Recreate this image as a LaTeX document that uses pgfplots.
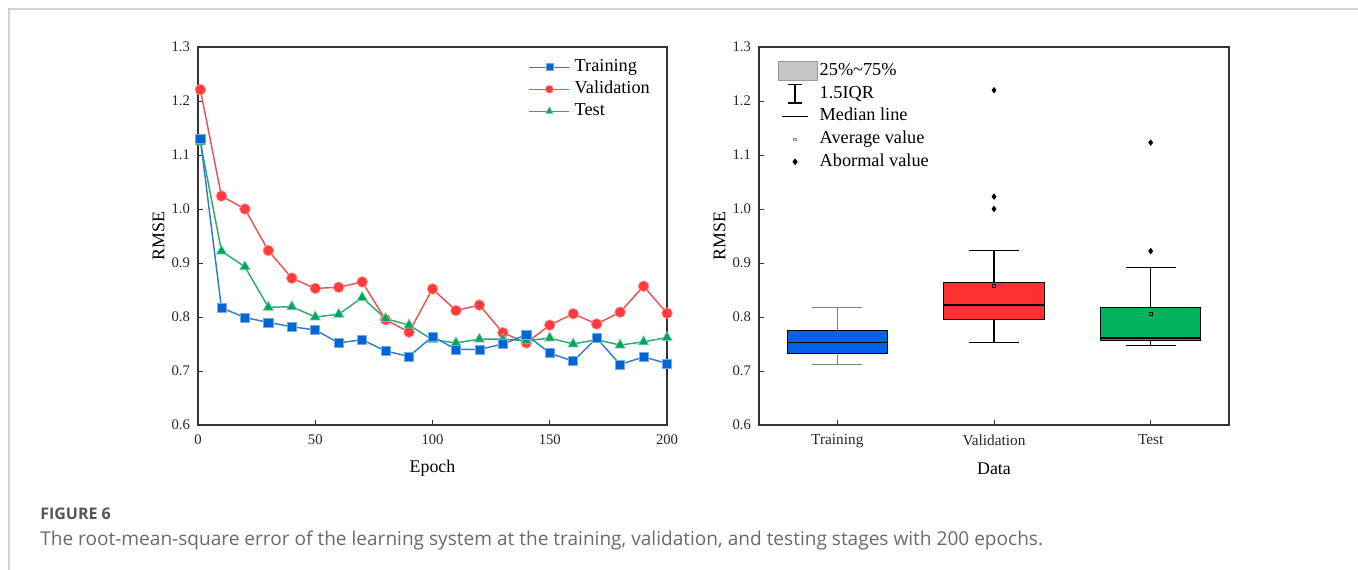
\documentclass[border=0pt]{standalone}
\usepackage{fontspec}
\setmainfont{Liberation Serif}
\newfontfamily\capfont{Open Sans}
\usepackage{pgfplots}
\usepackage{pgfplotstable}
\pgfplotsset{compat=1.18}
\usepgfplotslibrary{statistics}
\definecolor{trainc}{HTML}{0066D6}
\definecolor{trainl}{HTML}{2F7FC8}
\definecolor{valc}{HTML}{FF3B3B}
\definecolor{vall}{HTML}{E85454}
\definecolor{testc}{HTML}{00A55A}
\definecolor{testl}{HTML}{2DAA70}
\definecolor{boxblue}{HTML}{0063E5}
\definecolor{boxred}{HTML}{FF3030}
\definecolor{boxgreen}{HTML}{00B25C}
\definecolor{framec}{HTML}{D2D2D2}
\definecolor{capc}{HTML}{555555}
\definecolor{capt}{HTML}{6A6A6A}

\pgfplotstableread{
ep  train val   test
1   1.130 1.221 1.124
10  0.817 1.024 0.922
20  0.799 1.000 0.893
30  0.790 0.923 0.818
40  0.782 0.872 0.819
50  0.776 0.853 0.800
60  0.752 0.855 0.805
70  0.758 0.865 0.836
80  0.737 0.795 0.797
90  0.727 0.772 0.785
100 0.764 0.852 0.758
110 0.740 0.812 0.752
120 0.740 0.822 0.759
130 0.750 0.771 0.759
140 0.767 0.752 0.756
150 0.733 0.785 0.761
160 0.718 0.806 0.750
170 0.761 0.787 0.758
180 0.712 0.809 0.748
190 0.726 0.857 0.754
200 0.714 0.807 0.762
}\rmse

\pgfplotsset{
  myaxis/.style={
    scale only axis,
    anchor=south west,
    height=283.5pt,
    ymin=0.6, ymax=1.3,
    ytick={0.6,0.7,0.8,0.9,1.0,1.1,1.2,1.3},
    yticklabel style={/pgf/number format/fixed, /pgf/number format/fixed zerofill, /pgf/number format/precision=1, xshift=-2.5pt},
    xticklabel style={yshift=-3.5pt},
    tick align=inside,
    xtick pos=bottom, ytick pos=left,
    axis line style={black!80, line width=0.8pt},
    major tick length=4pt,
    tick style={black!80, line width=0.7pt},
    ticklabel style={font=\fontsize{11}{12}\selectfont, text=black!85},
    /pgf/number format/assume math mode=true,
    label style={font=\fontsize{13.4}{15}\selectfont},
    xlabel style={at={(axis description cs:0.5,-0.115)}, anchor=center},
    ylabel style={at={(axis description cs:-0.084,0.5)}, anchor=center},
    legend style={draw=none, fill=none, inner sep=0pt, outer sep=0pt,
      font=\fontsize{13.7}{15}\selectfont, anchor=north west},
    legend cell align=left,
  },
  trainstyle/.style={draw=trainl, line width=1.1pt, mark=square*, mark size=3.4pt,
     mark options={fill=trainc, draw=trainc!55!white, line width=0.5pt, solid}},
  valstyle/.style={draw=vall, line width=1.1pt, mark=*, mark size=4pt,
     mark options={fill=valc, draw=valc!55!white, line width=0.5pt, solid}},
  teststyle/.style={draw=testl, line width=1.1pt, mark=triangle*, mark size=4.4pt,
     mark options={fill=testc, draw=testc!55!white, line width=0.5pt, solid}},
}

\begin{document}
\begin{tikzpicture}
\path[use as bounding box] (0pt,0pt) rectangle (1018.5pt,427.5pt);
\draw[framec, line width=1.5pt] (7pt,0pt) -- (7pt,420.75pt) -- (1018.5pt,420.75pt);
\node[anchor=west, inner sep=0pt, text=capc, font=\capfont\fontsize{12}{14}\selectfont\bfseries] at (30pt,42pt) {FIGURE 6};
\node[anchor=west, inner sep=0pt, text=capt, font=\capfont\fontsize{14.3}{16}\selectfont] at (30pt,22.5pt) {The root-mean-square error of the learning system at the training, validation, and testing stages with 200 epochs.};

\begin{axis}[myaxis, at={(148.5pt,108.75pt)}, width=351.75pt,
  xmin=0, xmax=200, xtick={0,50,100,150,200},
  xlabel={Epoch}, ylabel={RMSE},
  legend style={at={(0.705,0.972)}, nodes={inner sep=1pt, text height=9.5pt, text depth=3pt}, row sep=2pt},
  legend image code/.code={\draw[mark repeat=2,mark phase=2,#1] plot coordinates {(0pt,0pt) (15pt,0pt) (30pt,0pt)}; \path[draw=none, fill=none] (0pt,0pt) -- (33pt,0pt);},
]
\addlegendimage{trainstyle, mark size=2.6pt}
\addlegendentry{Training}
\addlegendimage{valstyle, mark size=3pt}
\addlegendentry{Validation}
\addlegendimage{teststyle, mark size=3.2pt}
\addlegendentry{Test}
\addplot[valstyle, forget plot] table[x=ep,y=val]{\rmse};
\addplot[teststyle, forget plot] table[x=ep,y=test]{\rmse};
\addplot[trainstyle, forget plot] table[x=ep,y=train]{\rmse};
\end{axis}

\begin{axis}[myaxis, at={(569.25pt,108.75pt)}, width=352.5pt,
  xmin=0.5, xmax=3.5, xtick={1,2,3}, xticklabels={Training,Validation,Test},
  xticklabel style={font=\fontsize{11.5}{13}\selectfont},
  xlabel={Data}, ylabel={RMSE},
  boxplot/draw direction=y,
  boxplot/box extend=0.64, boxplot/whisker extend=0.32,
  boxplot/every median/.style={draw=black, line width=1.3pt},
  boxplot/every average/.style={/tikz/mark=square, /tikz/mark size=1.2pt, /tikz/mark options={draw=black!45, fill=none, line width=0.4pt}},
  legend style={at={(0.0404,0.9625)}, nodes={inner sep=0pt, text height=9.5pt, text depth=3pt}, row sep=2pt},
]
\addlegendimage{legend image code/.code={\draw[fill=gray!45, draw=gray!80, line width=0.6pt] (0pt,-7pt) rectangle (29pt,7pt); \path[draw=none, fill=none] (0pt,-7.5pt) rectangle (31pt,7.5pt);}}
\addlegendentry{25\%\textasciitilde 75\%}
\addlegendimage{legend image code/.code={\draw[black, line width=0.9pt] (7.5pt,-6.8pt)--(17.5pt,-6.8pt) (12.5pt,-6.8pt)--(12.5pt,6.8pt) (7.5pt,6.8pt)--(17.5pt,6.8pt); \path[draw=none, fill=none] (0pt,-7.5pt) rectangle (31pt,7.5pt);}}
\addlegendentry{1.5IQR}
\addlegendimage{legend image code/.code={\draw[black, line width=0.9pt] (3pt,0pt)--(22pt,0pt); \path[draw=none, fill=none] (0pt,-7.5pt) rectangle (31pt,7.5pt);}}
\addlegendentry{Median line}
\addlegendimage{legend image code/.code={\draw[black!45, line width=0.4pt] (11.5pt,-1pt) rectangle (13.5pt,1pt); \path[draw=none, fill=none] (0pt,-7.5pt) rectangle (31pt,7.5pt);}}
\addlegendentry{Average value}
\addlegendimage{legend image code/.code={\fill[black] (12.5pt,2.2pt)--(14.2pt,0pt)--(12.5pt,-2.2pt)--(10.8pt,0pt)--cycle; \path[draw=none, fill=none] (0pt,-7.5pt) rectangle (31pt,7.5pt);}}
\addlegendentry{Abormal value}

\addplot[boxplot prepared={draw position=1, lower whisker=0.712, lower quartile=0.733, median=0.753, upper quartile=0.775, upper whisker=0.818},
  fill=boxblue, draw=black, line width=0.8pt, mark=diamond*, mark options={fill=black, draw=black},
  boxplot/every whisker/.style={draw=black!50, line width=0.8pt}, forget plot] coordinates {};
\addplot[boxplot prepared={draw position=2, lower whisker=0.752, lower quartile=0.796, median=0.822, upper quartile=0.864, upper whisker=0.923, average=0.857},
  fill=boxred, draw=black, line width=0.8pt, mark=diamond*, mark size=1.8pt, mark options={fill=black, draw=black},
  boxplot/every whisker/.style={draw=black, line width=0.8pt}, forget plot] table[row sep=\\, y index=0] {data\\ 1.000\\ 1.023\\ 1.220\\};
\addplot[boxplot prepared={draw position=3, lower whisker=0.748, lower quartile=0.756, median=0.761, upper quartile=0.818, upper whisker=0.892, average=0.806},
  fill=boxgreen, draw=black, line width=0.8pt, mark=diamond*, mark size=1.8pt, mark options={fill=black, draw=black},
  boxplot/every whisker/.style={draw=black, line width=0.8pt}, forget plot] table[row sep=\\, y index=0] {data\\ 0.922\\ 1.123\\};
\end{axis}
\end{tikzpicture}
\end{document}
